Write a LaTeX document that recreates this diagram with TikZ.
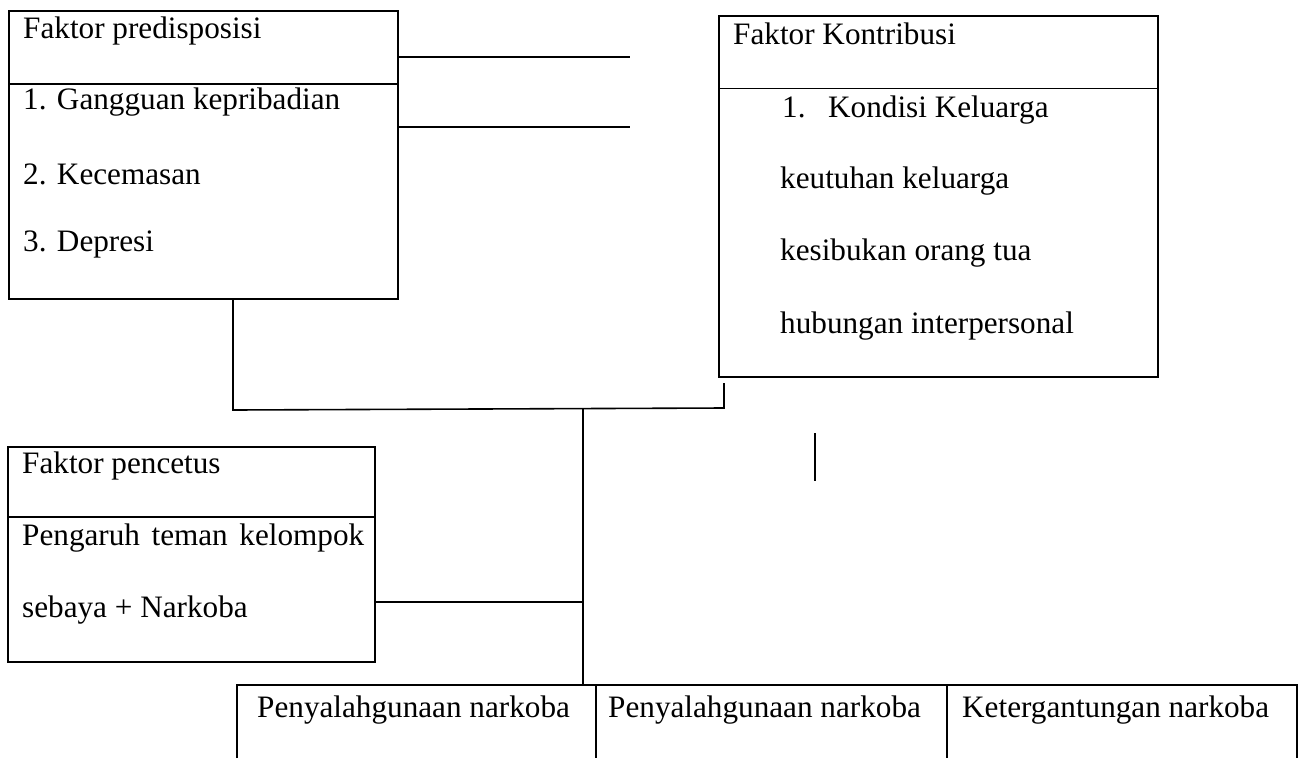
\documentclass[tikz,border=0pt]{standalone}
\usepackage{fontspec}
\setmainfont{Liberation Serif}
\begin{document}
\begin{tikzpicture}[x=1pt,y=-1pt,
  box/.style={draw, line width=1.6pt, inner sep=0pt, outer sep=0pt, anchor=north west},
  cell/.style={inner sep=0pt, outer sep=0pt, anchor=north west},
  txt/.style={anchor=base west, inner sep=0pt, font=\fontsize{31.2}{36}\selectfont},
  conn/.style={line width=1.6pt}]
\useasboundingbox (0,0) rectangle (1308,758);
\fill[white] (0,0) rectangle (1308,758);

% Faktor predisposisi
\node[box, minimum width=389pt, minimum height=288pt] (P) at (9,11) {};
\coordinate (Pd) at (9,84);
\draw[conn] (P.west |- Pd) -- (P.east |- Pd);
\node[txt] (Pt) at (23,38) {Faktor predisposisi};
\node[txt] (P1) at (23,109) {1. Gangguan kepribadian};
\node[txt] (P2) at (23,184) {2. Kecemasan};
\node[txt] (P3) at (23,251) {3. Depresi};

% free lines to the right
\coordinate (a1) at (630,57);
\coordinate (a2) at (630,127);
\draw[conn] (P.east |- a1) -- (a1);
\draw[conn] (P.east |- a2) -- (a2);

% Faktor Kontribusi
\node[box, minimum width=439pt, minimum height=361pt] (K) at (719,16) {};
\coordinate (Kd) at (719,88);
\draw[line width=1pt] (K.west |- Kd) -- (K.east |- Kd);
\node[txt] (Kt) at (733,44) {Faktor Kontribusi};
\node[txt] (K0) at (782,117) {1.};
\node[txt] (K1) at (828,117) {Kondisi Keluarga};
\node[txt] (K2) at (780,188) {keutuhan keluarga};
\node[txt] (K3) at (780,260) {kesibukan orang tua};
\node[txt] (K4) at (780,333) {hubungan interpersonal};

% junction
\coordinate (J1) at (233,410);
\coordinate (J2) at (724,408);
\coordinate (J) at (583,409);
\coordinate (Kend) at (724,383);
\draw[conn] (P.south -| J1) -- (J1) -- (J2) -- (Kend);

% short stray line
\coordinate (s1) at (815,433);
\coordinate (s2) at (815,481);
\draw[conn] (s1) -- (s2);

% Faktor pencetus
\node[box, minimum width=367pt, minimum height=215pt] (C) at (8,447) {};
\coordinate (Cd) at (8,517);
\draw[conn] (C.west |- Cd) -- (C.east |- Cd);
\node[txt] (Ct) at (22,473) {Faktor pencetus};
\node[txt] (C1) at (22,545) {\makebox[342pt][s]{Pengaruh teman kelompok}};
\node[txt] (C2) at (22,617) {sebaya + Narkoba};
\coordinate (Cj) at (583,602);
\draw[conn] (C.east |- Cj) -- (Cj);

% bottom row
\node[cell, minimum width=359pt, minimum height=73pt] (B1) at (237,685) {};
\node[cell, minimum width=351pt, minimum height=73pt] (B2) at (596,685) {};
\node[cell, minimum width=350pt, minimum height=73pt] (B3) at (947,685) {};
\draw[conn] (B1.south west) -- (B1.north west) -- (B3.north east) -- (B3.south east);
\draw[line width=1.2pt] (B2.north west) -- (B2.south west);
\draw[line width=1.2pt] (B3.north west) -- (B3.south west);
\node[txt] (B1t) at (257,717) {Penyalahgunaan narkoba};
\node[txt] (B2t) at (608,717) {Penyalahgunaan narkoba};
\node[txt] (B3t) at (962,717) {Ketergantungan narkoba};

% trunk
\draw[conn] (J) -- (J |- B1.north);
\end{tikzpicture}
\end{document}
